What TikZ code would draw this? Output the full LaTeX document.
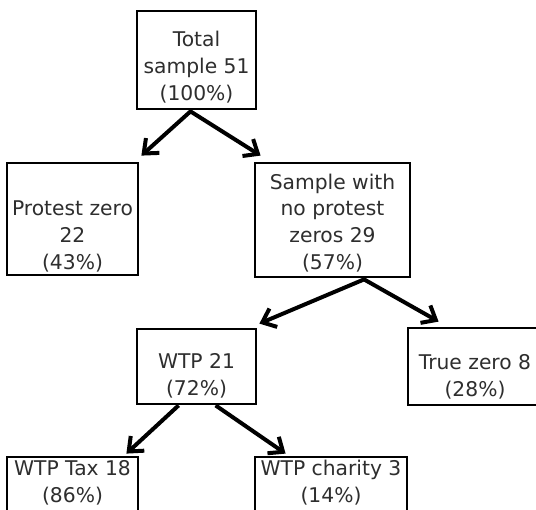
\documentclass[tikz,border=0pt]{standalone}
\usepackage{fontspec}
\setmainfont{DejaVu Sans}
\usetikzlibrary{arrows.meta,calc}
\begin{document}
\begin{tikzpicture}[x=0.75pt,y=-0.75pt,
  boxnode/.style={draw=black, line width=2.1pt, inner sep=0pt, fill=none},
  txt/.style={anchor=south, align=center, inner sep=0pt, text=black!82,
    font=\fontsize{15.2pt}{20pt}\selectfont},
  tipstyle/.style={},
  arr/.style={line width=3pt, black, -{Straight Barb[length=9pt,width=15pt,line width=3pt]}},
  darr/.style={line width=3pt, black, {Straight Barb[length=9pt,width=15pt,line width=3pt]}-{Straight Barb[length=9pt,width=15pt,line width=3pt]}}]
\useasboundingbox (0,0) rectangle (536,510);
\fill[white] (0,0) rectangle (536,510);
\clip (0,0) rectangle (536,510);
% boxes
\node[boxnode, minimum width=119*0.75pt, minimum height=98*0.75pt] (tot) at (196.5,60) {};
\node[boxnode, minimum width=131*0.75pt, minimum height=112*0.75pt] (pz) at (72.5,219) {};
\node[boxnode, minimum width=155*0.75pt, minimum height=114*0.75pt] (sw) at (332.5,220) {};
\node[boxnode, minimum width=119*0.75pt, minimum height=75*0.75pt] (w21) at (196.5,366.5) {};
\node[boxnode, minimum width=134*0.75pt, minimum height=77*0.75pt] (tz) at (475,366.5) {};
\node[boxnode, minimum width=131*0.75pt, minimum height=73*0.75pt] (tax) at (72.5,493.5) {};
\node[boxnode, minimum width=152*0.75pt, minimum height=73*0.75pt] (ch) at (331,493.5) {};
% texts
\node[txt] (ttot) at (196.5,103) {Total\\sample 51\\(100\%)};
\node[txt] (tpz) at (72.5,272) {Protest zero\\22\\(43\%)};
\node[txt] (tsw) at (332.5,272) {Sample with\\no protest\\zeros 29\\(57\%)};
\node[txt] (tw21) at (196.5,398) {WTP 21\\(72\%)};
\node[txt] (ttz) at (475,399) {True zero 8\\(28\%)};
\node[txt] (ttax) at (72.5,505) {WTP Tax 18\\(86\%)};
\node[txt] (tch) at (331,505) {WTP charity 3\\(14\%)};
% connectors
\coordinate (a1) at ($(tot.south)+(-6,1)$);
\coordinate (a2) at ($(sw.south west)!0.7!(sw.south east)+(0,1)$);
\draw[darr] ($(pz.north east)+(2,-6)$) -- (a1) -- ($(sw.north west)+(7,-6)$);
\draw[darr] ($(w21.north east)+(2,-4)$) -- (a2) -- ($(tz.north west)+(32,-5)$);
\draw[arr] ($(w21.south west)+(43,0)$) -- ($(tax.north east)+(-13,-2)$);
\draw[arr] ($(w21.south west)+(80,0)$) -- ($(ch.north west)+(32,-2)$);
\end{tikzpicture}
\end{document}
